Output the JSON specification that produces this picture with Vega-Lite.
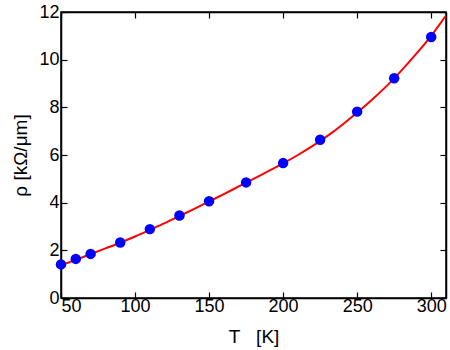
{
  "$schema": "https://vega.github.io/schema/vega-lite/v6.json",
  "autosize": {"type": "none"},
  "width": 385,
  "height": 286,
  "padding": {"left": 61, "top": 12, "right": 4, "bottom": 52},
  "background": "white",
  "config": {
    "font": "Liberation Sans",
    "view": {"stroke": "black", "strokeWidth": 1.5},
    "axis": {
      "grid": false,
      "domainColor": "black",
      "domainWidth": 1.5,
      "ticks": true,
      "tickColor": "black",
      "tickWidth": 1.2,
      "labelColor": "black",
      "titleColor": "black",
      "labelFont": "Liberation Sans",
      "titleFont": "Liberation Sans",
      "labelFontSize": 18,
      "titleFontSize": 19,
      "titleFontWeight": "normal"
    }
  },
  "datasets": {
    "curve": [
      {"T": 50, "rho": 1.37}, {"T": 60, "rho": 1.6}, {"T": 70, "rho": 1.84},
      {"T": 80, "rho": 2.08}, {"T": 90, "rho": 2.32}, {"T": 100, "rho": 2.58},
      {"T": 110, "rho": 2.86}, {"T": 120, "rho": 3.14}, {"T": 130, "rho": 3.44},
      {"T": 140, "rho": 3.74}, {"T": 150, "rho": 4.05}, {"T": 160, "rho": 4.36},
      {"T": 170, "rho": 4.68}, {"T": 180, "rho": 5.0}, {"T": 190, "rho": 5.32},
      {"T": 200, "rho": 5.65}, {"T": 210, "rho": 6.0}, {"T": 220, "rho": 6.38},
      {"T": 230, "rho": 6.8}, {"T": 240, "rho": 7.27}, {"T": 250, "rho": 7.78},
      {"T": 260, "rho": 8.32}, {"T": 270, "rho": 8.9}, {"T": 280, "rho": 9.55},
      {"T": 290, "rho": 10.25}, {"T": 300, "rho": 11.0}, {"T": 310, "rho": 11.85}
    ],
    "points": [
      {"T": 50, "rho": 1.41}, {"T": 60, "rho": 1.64}, {"T": 70, "rho": 1.85},
      {"T": 90, "rho": 2.33}, {"T": 110, "rho": 2.89}, {"T": 130, "rho": 3.46},
      {"T": 150, "rho": 4.06}, {"T": 175, "rho": 4.85}, {"T": 200, "rho": 5.66},
      {"T": 225, "rho": 6.64}, {"T": 250, "rho": 7.82}, {"T": 275, "rho": 9.22},
      {"T": 300, "rho": 10.95}
    ]
  },
  "layer": [
    {
      "data": {"name": "curve"},
      "mark": {"type": "line", "color": "#ff0000", "strokeWidth": 2, "interpolate": "monotone", "clip": true},
      "encoding": {
        "x": {
          "field": "T", "type": "quantitative",
          "scale": {"domain": [50, 310], "nice": false, "zero": false},
          "axis": {"orient": "bottom", "values": [50, 100, 150, 200, 250, 300], "tickSize": -6, "title": "T\u00a0\u00a0\u00a0[K]", "labelPadding": 5, "titlePadding": 12}
        },
        "y": {
          "field": "rho", "type": "quantitative",
          "scale": {"domain": [0, 12], "nice": false},
          "axis": {"orient": "left", "values": [0, 2, 4, 6, 8, 10, 12], "tickSize": -6, "title": "ρ [kΩ/μm]", "labelPadding": 8, "titlePadding": 8}
        }
      }
    },
    {
      "data": {"name": "points"},
      "mark": {"type": "point", "filled": true, "color": "#0000ff", "opacity": 1, "size": 110},
      "encoding": {
        "x": {
          "field": "T", "type": "quantitative",
          "axis": {"orient": "top", "values": [50, 100, 150, 200, 250, 300], "tickSize": -6, "labels": false, "title": null}
        },
        "y": {
          "field": "rho", "type": "quantitative",
          "axis": {"orient": "right", "values": [0, 2, 4, 6, 8, 10, 12], "tickSize": -6, "labels": false, "title": null}
        }
      }
    }
  ]
}
